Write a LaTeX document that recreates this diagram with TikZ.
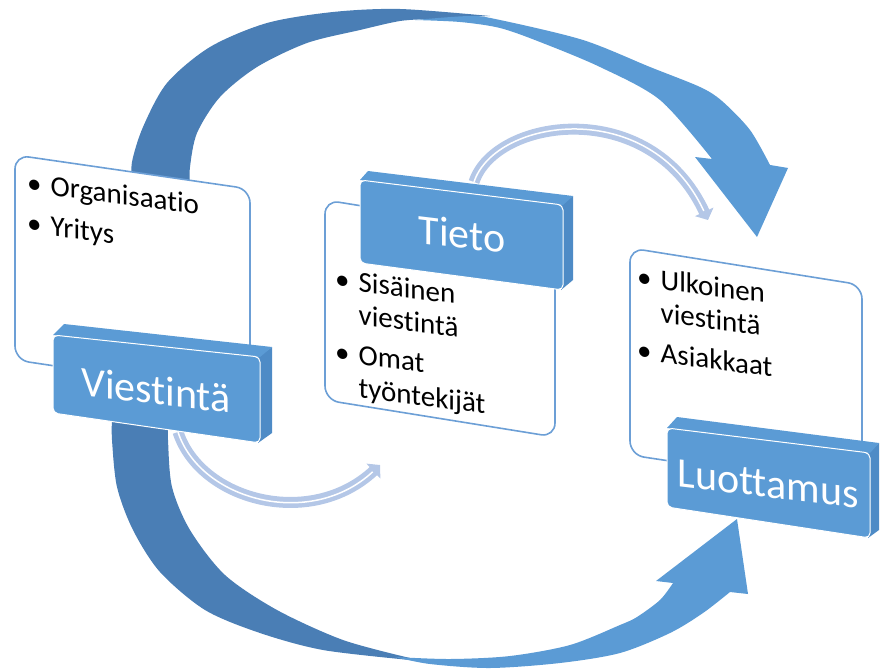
\documentclass[tikz,border=0pt]{standalone}
\usepackage{fontspec}
\setmainfont{Carlito}[Ligatures=NoCommon]
\usepackage{tikz}
\usetikzlibrary{arrows.meta, positioning}

\definecolor{arcdark}{HTML}{4A7EB5}
\definecolor{arclight}{HTML}{5B9BD5}
\definecolor{boxface}{HTML}{5B9BD5}
\definecolor{boxside}{HTML}{4E8BC6}
\definecolor{ghost}{HTML}{B4C7E7}
\definecolor{cardline}{HTML}{6C9FD6}

\begin{document}
\begin{tikzpicture}[x=1pt, y=-1pt,
			card/.style={draw=cardline, line width=1.6pt, fill=white, rounded corners=14pt},
			face/.style={fill=boxface, draw=white, line width=1pt, rounded corners=5pt},
			topface/.style={fill=boxface},
			sideface/.style={fill=boxside},
			labeltext/.style={text=white, font=\fontsize{42}{48}\selectfont, yslant=-0.12, inner sep=0pt},
			bullets/.style={font=\fontsize{29}{33}\selectfont, yslant=-0.13, inner sep=0pt, anchor=north west},
			ghostarc/.style={draw=ghost, line width=11pt, -{Triangle[length=9pt, width=20pt]}},
			ghostline/.style={draw=white, line width=1.5pt, shorten >=10pt}]

			\useasboundingbox (0,0) rectangle (882,669);

			% big arrow over the top
			\fill[arcdark] plot[smooth] coordinates {(132,185) (132,162) (143,127) (167,83) (210,47) (267,23) (333,12) (400,9) (490,16)}
				-- plot[smooth] coordinates {(430,19) (400,21) (360,30) (307,43) (257,67) (220,97) (197,133) (190,167) (190,185)} -- cycle;
			\fill[arclight] plot[smooth] coordinates {(415,20) (470,16) (500,20) (583,40) (650,67) (700,87) (722,101) (750,130) (770,165)}
				-- (788,168) -- (757,237) -- (695,157) -- (712,159)
				-- plot[smooth] coordinates {(712,159) (660,100) (600,67) (540,42) (500,28) (460,22) (415,20)} -- cycle;

			% big arrow under the bottom
			\fill[arcdark] plot[smooth] coordinates {(112,420) (112,440) (117,487) (133,530) (160,572) (205,610) (260,633) (323,650) (410,660)}
				-- plot[smooth] coordinates {(410,658) (343,640) (277,610) (225,575) (190,530) (172,487) (168,440) (168,420)} -- cycle;
			\fill[arclight] plot[smooth] coordinates {(395,657) (430,664) (490,668) (560,663) (620,653) (670,633) (703,613) (730,592)}
				-- (748,594) -- (737,519) -- (656,581) -- (673,583)
				-- plot[smooth] coordinates {(673,583) (660,600) (637,617) (620,625) (570,645) (510,656) (450,659) (395,657)} -- cycle;

			% content cards
			\draw[card] (15,155) -- (250,189) -- (250,395) -- (15,360) -- cycle;
			\draw[card] (325,200) -- (555,237) -- (555,437) -- (325,400) -- cycle;
			\draw[card] (630,248) -- (862,285) -- (862,490) -- (630,455) -- cycle;

			% light arrows
			\coordinate (tietoTop) at (474,182);
			\coordinate (tietoTip) at (708,220);
			\coordinate (viestBot) at (178,432);
			\coordinate (viestTip) at (380,465);
			\draw[ghostarc] (tietoTop) .. controls (495,118) and (650,95) .. (tietoTip);
			\draw[ghostline] (tietoTop) .. controls (495,118) and (650,95) .. (tietoTip);
			\draw[ghostarc] (viestBot) .. controls (200,500) and (310,530) .. (viestTip);
			\draw[ghostline] (viestBot) .. controls (200,500) and (310,530) .. (viestTip);

			% label boxes
			\fill[sideface] (258,357) -- (272,347) -- (272,433) -- (258,443) -- cycle;
			\fill[topface] (53,335) -- (64,324) -- (272,347) -- (260,357) -- cycle;
			\draw[face] (53,335) -- (260,357) -- (260,443) -- (53,413) -- cycle;

			\fill[sideface] (561,205) -- (573,196) -- (573,280) -- (561,290) -- cycle;
			\fill[topface] (360,180) -- (368,171) -- (573,196) -- (563,205) -- cycle;
			\draw[face] (360,180) -- (563,205) -- (563,290) -- (360,263) -- cycle;

			\fill[sideface] (868,453) -- (879,443) -- (879,530) -- (868,538) -- cycle;
			\fill[topface] (667,428) -- (677,417) -- (879,443) -- (870,453) -- cycle;
			\draw[face] (667,428) -- (870,453) -- (870,538) -- (667,507) -- cycle;

			\node[labeltext] (viestinta) at (156,390) {Viestintä};
			\node[labeltext] (tieto) at (462,234) {Tieto};
			\node[labeltext] (luottamus) at (768,484) {Luottamus};

			\node[bullets] (orgList) at (27,169) {\begin{tabular}{@{}l@{\hspace{9pt}}l@{}}\textbullet & Organisaatio\\[7pt] \textbullet & Yritys\end{tabular}};
			\node[bullets] (tietoList) at (335,265) {\begin{tabular}{@{}l@{\hspace{9pt}}l@{}}\textbullet & Sisäinen\\ & viestintä\\[7pt] \textbullet & Omat\\ & työntekijät\end{tabular}};
			\node[bullets] (luottList) at (637,263) {\begin{tabular}{@{}l@{\hspace{9pt}}l@{}}\textbullet & Ulkoinen\\ & viestintä\\[7pt] \textbullet & Asiakkaat\end{tabular}};
		\end{tikzpicture}
\end{document}
